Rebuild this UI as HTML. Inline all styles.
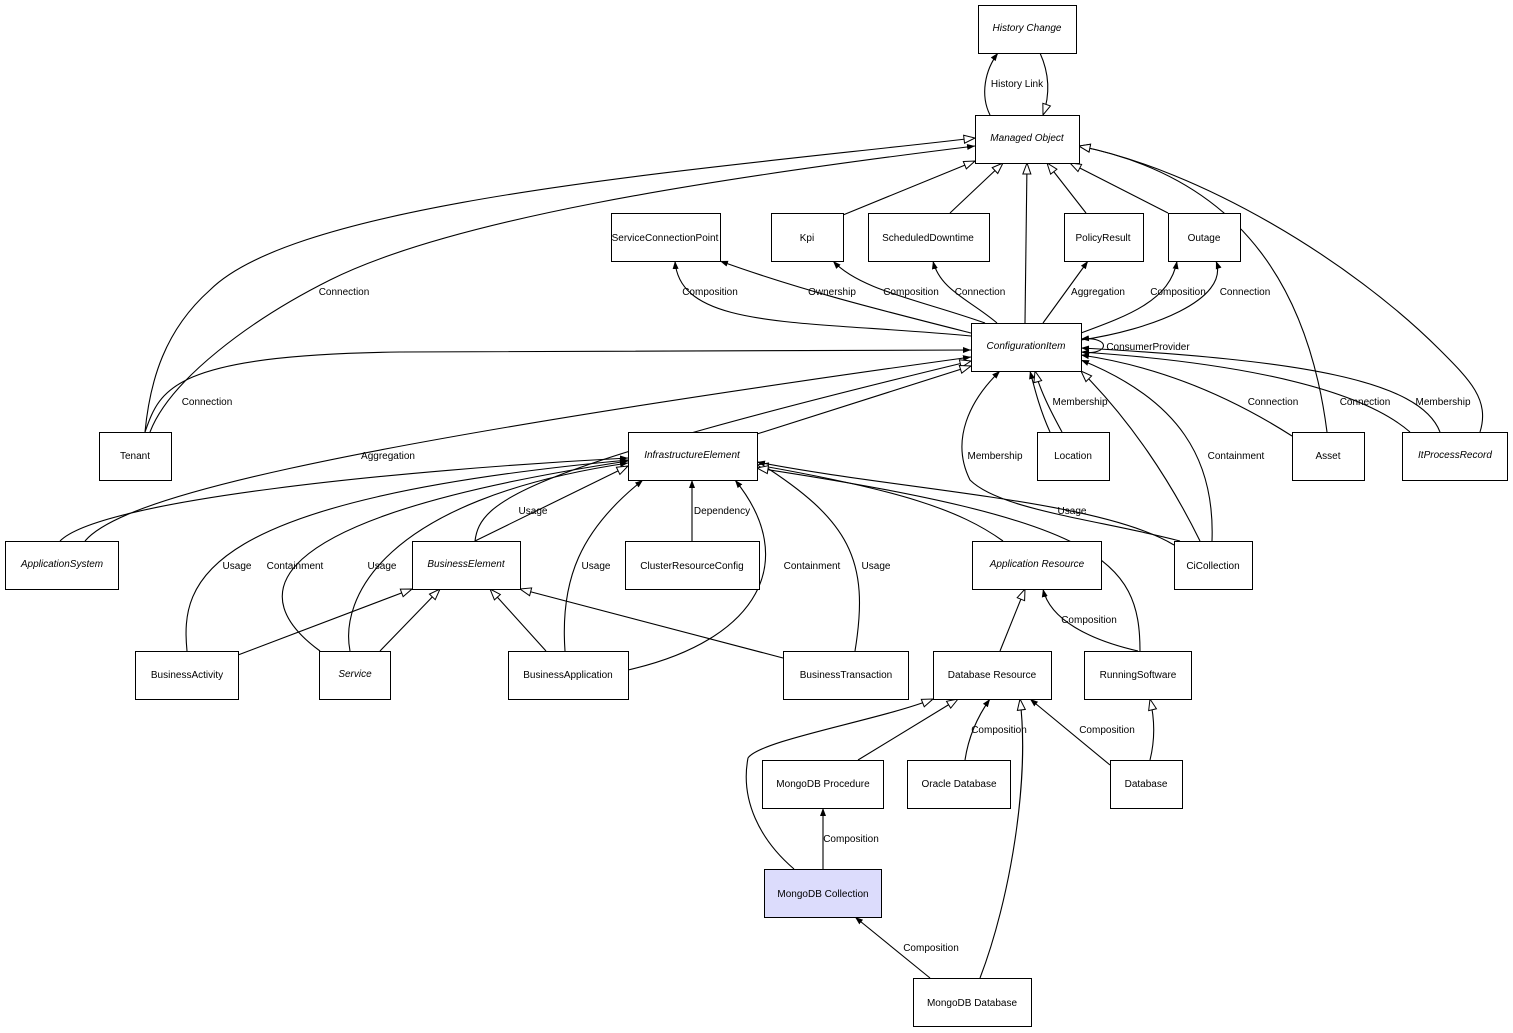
<!DOCTYPE html>
<html><head><meta charset="utf-8"><style>
html,body{margin:0;padding:0;background:#fff;}
svg{display:block;font-family:"Liberation Sans",Arial,sans-serif;font-size:10px;}
.n{fill:#fff;stroke:#000;stroke-width:1;}
.e{fill:none;stroke:#000;stroke-width:1.1;}
.h{marker-end:url(#tri);}
.f{marker-end:url(#arr);}
text{fill:#000;}
.t{text-anchor:middle;}
.i{font-style:italic;}
</style></head><body>
<svg width="1513" height="1033" viewBox="0 0 1513 1033" xmlns="http://www.w3.org/2000/svg">
<defs>
<marker id="tri" markerWidth="14" markerHeight="12" refX="12" refY="5" orient="auto" markerUnits="userSpaceOnUse">
<path d="M1,1 L12,5 L1,9 Z" fill="#fff" stroke="#000" stroke-width="1"/></marker>
<marker id="arr" markerWidth="10" markerHeight="10" refX="8" refY="4" orient="auto" markerUnits="userSpaceOnUse">
<path d="M0,1 L8,4 L0,7 Z" fill="#000"/></marker>
</defs>

<path class="e f" d="M990,115 C980,95 985,70 998,53"/>
<path class="e h" d="M1040,53 C1050,75 1050,95 1043,115"/>
<path class="e h" d="M145,432 C150,380 165,330 210,290 C300,200 700,170 975,138"/>
<path class="e f" d="M150,432 C170,380 250,320 330,280 C450,220 700,180 975,146"/>
<path class="e h" d="M843,215 L975,161"/>
<path class="e h" d="M950,213 L1003,163"/>
<path class="e h" d="M1025,323 L1027,163"/>
<path class="e h" d="M1086,213 L1047,163"/>
<path class="e h" d="M1168,213 L1070,163"/>
<path class="e h" d="M1327,432 C1310,300 1250,180 1079,146"/>
<path class="e h" d="M1480,432 C1490,400 1470,380 1440,350 C1350,260 1200,170 1079,146"/>

<path class="e f" d="M971,336 C800,320 680,330 675,261"/>
<path class="e f" d="M971,333 C880,310 800,290 720,261"/>
<path class="e f" d="M985,323 C920,300 860,290 833,261"/>
<path class="e f" d="M997,323 C970,300 940,290 933,261"/>
<path class="e f" d="M1043,323 L1088,261"/>
<path class="e f" d="M1081,333 C1130,315 1170,300 1177,261"/>
<path class="e f" d="M1081,340 C1150,330 1230,300 1216,261"/>
<path class="e f" d="M1081,352 C1110,356 1112,336 1081,339"/>
<path class="e f" d="M145,432 C160,390 170,355 400,352 L971,350"/>
<path class="e f" d="M85,541 C120,500 300,450 971,357"/>
<path class="e h" d="M475,541 C480,500 520,470 971,361"/>
<path class="e h" d="M757,434 L971,366"/>
<path class="e h" d="M1062,432 C1050,410 1040,390 1035,371"/>
<path class="e f" d="M1050,432 C1040,410 1035,390 1030,371"/>
<path class="e f" d="M1180,541 C1100,520 1000,510 970,480 C950,440 970,400 1000,371"/>
<path class="e f" d="M1212,541 C1215,460 1180,400 1081,360"/>
<path class="e h" d="M1200,541 C1170,480 1130,420 1081,371"/>
<path class="e f" d="M1292,436 C1220,390 1150,365 1081,355"/>
<path class="e f" d="M1410,432 C1350,380 1200,360 1081,352"/>
<path class="e f" d="M1440,432 C1420,380 1300,360 1081,348"/>

<path class="e f" d="M60,541 C100,500 400,470 628,458"/>
<path class="e f" d="M187,651 C180,580 200,500 628,460"/>
<path class="e f" d="M320,651 C250,600 240,520 628,461"/>
<path class="e f" d="M350,651 C340,600 380,500 628,463"/>
<path class="e h" d="M475,541 L628,466"/>
<path class="e f" d="M565,651 C560,580 580,530 643,480"/>
<path class="e f" d="M692,541 L692,480"/>
<path class="e f" d="M628,670 C760,640 800,560 735,480"/>
<path class="e f" d="M855,651 C870,560 850,520 758,462"/>
<path class="e h" d="M1003,541 C960,510 900,490 757,465"/>
<path class="e f" d="M1174,545 C1100,500 900,490 757,462"/>
<path class="e h" d="M1140,651 C1140,560 1100,520 757,468"/>

<path class="e h" d="M238,655 L412,589"/>
<path class="e h" d="M380,651 L440,589"/>
<path class="e h" d="M546,651 L490,589"/>
<path class="e h" d="M783,658 L520,589"/>

<path class="e h" d="M1000,651 L1025,589"/>
<path class="e f" d="M1138,651 C1090,640 1050,620 1043,589"/>

<path class="e h" d="M794,869 C760,840 740,800 748,758 C760,740 880,720 933,699"/>
<path class="e h" d="M858,760 L958,699"/>
<path class="e f" d="M965,760 C968,740 975,720 990,699"/>
<path class="e f" d="M1110,765 L1030,699"/>
<path class="e h" d="M1150,760 C1155,740 1155,720 1150,699"/>
<path class="e h" d="M980,978 C1010,900 1030,780 1020,699"/>
<path class="e f" d="M823,869 L823,808"/>
<path class="e f" d="M930,978 L855,917"/>

<g class="t">
<text x="1017" y="87">History Link</text>
<text x="344" y="295">Connection</text>
<text x="710" y="295">Composition</text>
<text x="832" y="295">Ownership</text>
<text x="911" y="295">Composition</text>
<text x="980" y="295">Connection</text>
<text x="1098" y="295">Aggregation</text>
<text x="1178" y="295">Composition</text>
<text x="1245" y="295">Connection</text>
<text x="1148" y="350">ConsumerProvider</text>
<text x="207" y="405">Connection</text>
<text x="1080" y="405">Membership</text>
<text x="1273" y="405">Connection</text>
<text x="1365" y="405">Connection</text>
<text x="1443" y="405">Membership</text>
<text x="388" y="459">Aggregation</text>
<text x="995" y="459">Membership</text>
<text x="1236" y="459">Containment</text>
<text x="533" y="514">Usage</text>
<text x="722" y="514">Dependency</text>
<text x="1072" y="514">Usage</text>
<text x="237" y="569">Usage</text>
<text x="295" y="569">Containment</text>
<text x="382" y="569">Usage</text>
<text x="596" y="569">Usage</text>
<text x="812" y="569">Containment</text>
<text x="876" y="569">Usage</text>
<text x="1089" y="623">Composition</text>
<text x="999" y="733">Composition</text>
<text x="1107" y="733">Composition</text>
<text x="851" y="842">Composition</text>
<text x="931" y="951">Composition</text>
</g>

<g>
<rect class="n" x="978.5" y="5.5" width="98" height="48"/><text class="t i" x="1027" y="31">History Change</text>
<rect class="n" x="975.5" y="115.5" width="104" height="48"/><text class="t i" x="1027" y="141">Managed Object</text>
<rect class="n" x="611.5" y="213.5" width="109" height="48"/><text class="t" x="665" y="241">ServiceConnectionPoint</text>
<rect class="n" x="771.5" y="213.5" width="72" height="48"/><text class="t" x="807" y="241">Kpi</text>
<rect class="n" x="868.5" y="213.5" width="121" height="48"/><text class="t" x="928" y="241">ScheduledDowntime</text>
<rect class="n" x="1064.5" y="213.5" width="79" height="48"/><text class="t" x="1103" y="241">PolicyResult</text>
<rect class="n" x="1168.5" y="213.5" width="72" height="48"/><text class="t" x="1204" y="241">Outage</text>
<rect class="n" x="971.5" y="323.5" width="110" height="48"/><text class="t i" x="1026" y="349">ConfigurationItem</text>
<rect class="n" x="99.5" y="432.5" width="72" height="48"/><text class="t" x="135" y="459">Tenant</text>
<rect class="n" x="628.5" y="432.5" width="129" height="48"/><text class="t i" x="692" y="458">InfrastructureElement</text>
<rect class="n" x="1037.5" y="432.5" width="72" height="48"/><text class="t" x="1073" y="459">Location</text>
<rect class="n" x="1292.5" y="432.5" width="72" height="48"/><text class="t" x="1328" y="459">Asset</text>
<rect class="n" x="1402.5" y="432.5" width="105" height="48"/><text class="t i" x="1455" y="458">ItProcessRecord</text>
<rect class="n" x="5.5" y="541.5" width="113" height="48"/><text class="t i" x="62" y="567">ApplicationSystem</text>
<rect class="n" x="412.5" y="541.5" width="108" height="48"/><text class="t i" x="466" y="567">BusinessElement</text>
<rect class="n" x="625.5" y="541.5" width="134" height="48"/><text class="t" x="692" y="569">ClusterResourceConfig</text>
<rect class="n" x="972.5" y="541.5" width="129" height="48"/><text class="t i" x="1037" y="567">Application Resource</text>
<rect class="n" x="1174.5" y="541.5" width="78" height="48"/><text class="t" x="1213" y="569">CiCollection</text>
<rect class="n" x="135.5" y="651.5" width="103" height="48"/><text class="t" x="187" y="678">BusinessActivity</text>
<rect class="n" x="319.5" y="651.5" width="71" height="48"/><text class="t i" x="355" y="677">Service</text>
<rect class="n" x="508.5" y="651.5" width="120" height="48"/><text class="t" x="568" y="678">BusinessApplication</text>
<rect class="n" x="783.5" y="651.5" width="125" height="48"/><text class="t" x="846" y="678">BusinessTransaction</text>
<rect class="n" x="933.5" y="651.5" width="118" height="48"/><text class="t" x="992" y="678">Database Resource</text>
<rect class="n" x="1084.5" y="651.5" width="107" height="48"/><text class="t" x="1138" y="678">RunningSoftware</text>
<rect class="n" x="762.5" y="760.5" width="121" height="48"/><text class="t" x="823" y="787">MongoDB Procedure</text>
<rect class="n" x="907.5" y="760.5" width="103" height="48"/><text class="t" x="959" y="787">Oracle Database</text>
<rect class="n" x="1110.5" y="760.5" width="72" height="48"/><text class="t" x="1146" y="787">Database</text>
<rect class="n" x="764.5" y="869.5" width="117" height="48" style="fill:#dcdcfc"/><text class="t" x="823" y="897">MongoDB Collection</text>
<rect class="n" x="913.5" y="978.5" width="118" height="48"/><text class="t" x="972" y="1006">MongoDB Database</text>
</g>
</svg>
</body></html>
